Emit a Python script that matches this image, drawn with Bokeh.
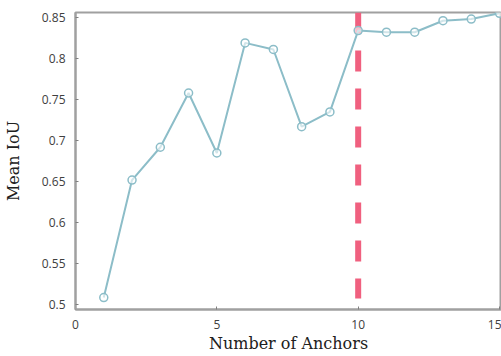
from bokeh.plotting import figure
from bokeh.models import Range1d, FixedTicker
from bokeh.embed import file_html
from bokeh.resources import INLINE

anchors = [1, 2, 3, 4, 5, 6, 7, 8, 9, 10, 11, 12, 13, 14, 15]
mean_iou = [0.509, 0.652, 0.692, 0.758, 0.685, 0.819, 0.811, 0.717, 0.735,
            0.834, 0.832, 0.832, 0.846, 0.848, 0.855]
chosen_k = [10]
x_ticks = [0, 5, 10, 15]
y_ticks = [0.5, 0.55, 0.6, 0.65, 0.7, 0.75, 0.8, 0.85]

line_color = "#8cbdc8"
frame_color = "#a0a0a0"

p = figure(width=501, height=356, output_backend="svg", toolbar_location=None,
           x_range=Range1d(0, 15.07), y_range=Range1d(0.4945, 0.856),
           min_border_left=75, min_border_right=0, min_border_top=12,
           min_border_bottom=47)
p.grid.visible = False
p.outline_line_color = frame_color
p.outline_line_width = 2

p.segment(x0=chosen_k, y0=[0.856], x1=chosen_k, y1=[0.508],
          line_color="#f0607f", line_width=6, line_dash="21 17")
p.line(anchors, mean_iou, line_color=line_color, line_width=2)
p.scatter(anchors, mean_iou, size=8, line_color=line_color, line_width=1.5,
          fill_color="#ffffff", fill_alpha=0.6)

p.xaxis.ticker = FixedTicker(ticks=x_ticks)
p.yaxis.ticker = FixedTicker(ticks=y_ticks)
p.yaxis.major_label_overrides = {0.5: "0.5", 0.6: "0.6", 0.7: "0.7", 0.8: "0.8"}
for ax in (p.xaxis[0], p.yaxis[0]):
    ax.axis_line_color = frame_color
    ax.axis_line_width = 2
    ax.major_tick_in = 3
    ax.major_tick_out = 0
    ax.minor_tick_in = 0
    ax.minor_tick_out = 0
    ax.major_tick_line_color = "#808080"
    ax.major_label_text_font = "Open Sans"
    ax.major_label_text_font_size = "12px"
    ax.major_label_text_color = "#404040"
    ax.axis_label_text_font = "DejaVu Serif"
    ax.axis_label_text_font_style = "normal"
    ax.axis_label_text_font_size = "16px"
    ax.axis_label_text_color = "#202020"
p.xaxis.axis_label = "Number of Anchors"
p.yaxis.axis_label = "Mean IoU"
p.xaxis.major_label_standoff = 10
p.xaxis.axis_label_standoff = 2
p.yaxis.major_label_standoff = 10
p.yaxis.axis_label_standoff = 16

open("out.html", "w").write(file_html(p, INLINE))
